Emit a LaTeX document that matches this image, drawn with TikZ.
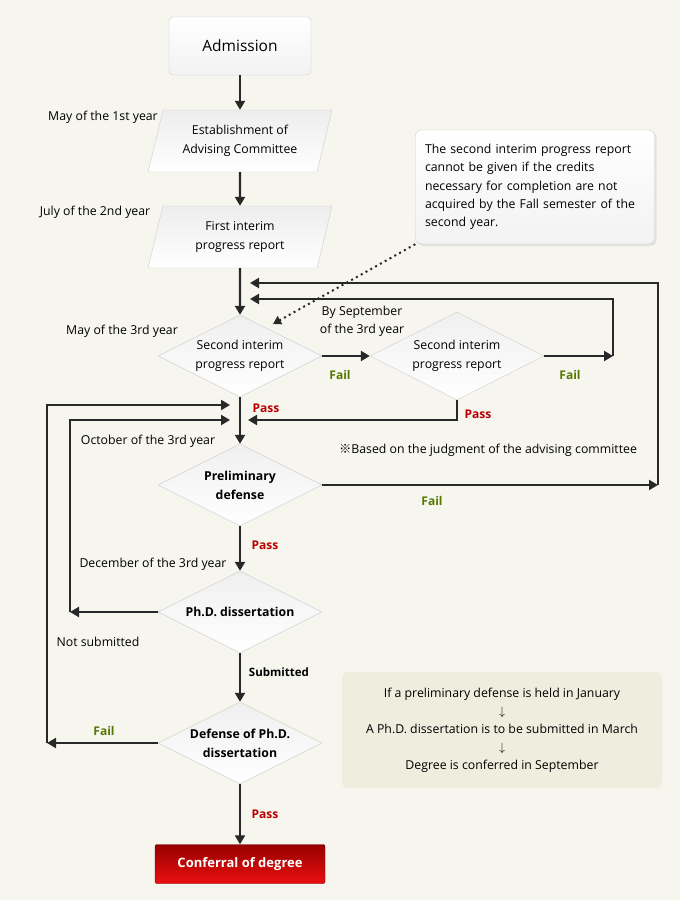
\documentclass[tikz,border=0pt]{standalone}
\usepackage{fontspec}
\setmainfont{Open Sans}
\newfontfamily\markfont{Noto Sans CJK JP}
\usetikzlibrary{arrows.meta,shapes.geometric,positioning,shadows}

\definecolor{bgpaper}{RGB}{246,245,238}
\definecolor{flowline}{RGB}{40,40,40}
\definecolor{passred}{RGB}{185,0,0}
\definecolor{failgreen}{RGB}{85,120,0}
\definecolor{shapeedge}{RGB}{205,205,205}
\definecolor{notebg}{RGB}{238,237,222}

\tikzset{
  flow/.style={draw=flowline, line width=2.2pt, -{Triangle[width=10pt,length=9pt]}},
  lbl/.style={font=\fontsize{12.3}{14}\selectfont, text=black, inner sep=1pt},
  passlbl/.style={font=\bfseries\fontsize{12}{14}\selectfont, text=passred, inner sep=1pt},
  faillbl/.style={font=\bfseries\fontsize{12}{14}\selectfont, text=failgreen, inner sep=1pt},
  startbox/.style={draw=shapeedge, rounded corners=4pt, top color=white, bottom color=gray!10,
    minimum width=142pt, minimum height=58pt, font=\fontsize{15.5}{17}\selectfont},
  stagebox/.style={trapezium, trapezium left angle=64, trapezium right angle=116,
    trapezium stretches body, draw=shapeedge, top color=gray!14, bottom color=white,
    minimum width=184pt, minimum height=62pt, inner sep=0pt, align=center,
    font=\fontsize{12.3}{18.5}\selectfont},
  choice/.style={diamond, aspect=2, draw=shapeedge, top color=gray!12, bottom color=white,
    minimum width=164pt, minimum height=82pt, inner sep=0pt, align=center,
    font=\fontsize{12.3}{19}\selectfont},
  keychoice/.style={choice, inner sep=-2pt, font=\bfseries\fontsize{12.3}{19}\selectfont},
  endbox/.style={draw={rgb,255:red,120;green,0;blue,0}, rounded corners=2pt,
    top color={rgb,255:red,150;green,0;blue,0}, bottom color={rgb,255:red,235;green,15;blue,15},
    minimum width=170pt, minimum height=39pt, text=white,
    font=\bfseries\fontsize{13}{15}\selectfont}
}

\begin{document}
\begin{tikzpicture}[x=1pt, y=-1pt]
		% paper
		\fill[bgpaper] (0,0) rectangle (680,900);
		\useasboundingbox (0,0) rectangle (680,900);
		% main column
		\node[startbox] (adm) at (240,46) {Admission};
		\node[stagebox] (est) at (240,141) {Establishment of\\Advising Committee};
		\node[stagebox] (first) at (240,237) {First interim\\progress report};
		\node[choice] (sir1) at (240,356) {Second interim\\progress report};
		\node[choice, minimum width=174pt, minimum height=88pt] (sir2) at (457,356) {Second interim\\progress report};
		\node[keychoice] (pre) at (240,485) {Preliminary\\defense};
		\node[keychoice] (phd) at (240,612) {Ph.D. dissertation};
		\node[keychoice] (dfn) at (240,743) {Defense of Ph.D.\\dissertation};
		\node[endbox] (conf) at (240,864) {Conferral of degree};
		% side notes
		\node[draw=shapeedge, rounded corners=6pt, top color=white, bottom color=gray!10,
		  drop shadow={opacity=0.15, shadow xshift=2pt, shadow yshift=-2pt},
		  minimum width=239pt, minimum height=114pt, text width=220pt, align=left,
		  font=\fontsize{12.3}{18.3}\selectfont] (memo) at (535,187)
		  {The second interim progress report\\cannot be given if the credits\\necessary for completion are not\\acquired by the Fall semester of the\\second year.};
		\node[fill=notebg, rounded corners=6pt, minimum width=320pt, minimum height=116pt,
		  align=center, font=\fontsize{12.3}{18}\selectfont] (note) at (502,730)
		  {If a preliminary defense is held in January\\$\downarrow$\\A Ph.D. dissertation is to be submitted in March\\$\downarrow$\\Degree is conferred in September};
		% timing labels
		\node[lbl] (may1) at (103,117) {May of the 1st year};
		\node[lbl] (jul2) at (95,212) {July of the 2nd year};
		\node[lbl] (may3) at (122,331) {May of the 3rd year};
		\node[lbl, align=center, font=\fontsize{12.3}{18}\selectfont] (sep3) at (362,321) {By September\\of the 3rd year};
		\node[lbl] (oct3) at (148,441) {October of the 3rd year};
		\node[lbl] (dec3) at (153,564) {December of the 3rd year};
		\node[lbl] (judge) at (488,450) {{\markfont ※}Based on the judgment of the advising committee};
		\node[lbl] (notsub) at (98,642) {Not submitted};
		\node[lbl, font=\bfseries\fontsize{11.5}{14}\selectfont] (sub) at (279,672) {Submitted};
		% corners and entry points
		\coordinate (turnA) at (613,356);
		\coordinate (turnB) at (658,485);
		\coordinate (turnC) at (70,612);
		\coordinate (turnD) at (47,743);
		\coordinate (backA) at (250,299);
		\coordinate (backB) at (250,283);
		\coordinate (backC) at (230,420);
		\coordinate (backD) at (230,405);
		\coordinate (backE) at (248,420);
		\coordinate (memotip) at (273,324);
		% connectors
		\draw[flow] (adm) -- (est);
		\draw[flow] (est) -- (first);
		\draw[flow] (first) -- (sir1);
		\draw[flow] (sir1.east) -- (sir2.west);
		\draw[flow] (sir2.east) -- (turnA);
		\draw[flow] (turnA) |- (backA);
		\draw[flow] (sir1) -- (pre);
		\draw[flow] (sir2.south) |- (backE);
		\draw[flow] (pre.east) -- (turnB);
		\draw[flow] (turnB) |- (backB);
		\draw[flow] (pre) -- (phd);
		\draw[flow] (phd.west) -- (turnC);
		\draw[flow] (turnC) |- (backC);
		\draw[flow] (phd) -- (dfn);
		\draw[flow] (dfn.west) -- (turnD);
		\draw[flow] (turnD) |- (backD);
		\draw[flow] (dfn) -- (conf);
		\draw[draw=flowline, line width=2pt, dash pattern=on 2pt off 3.5pt,
		  -{Triangle[width=9pt,length=8pt]}] (memo.south west) -- (memotip);
		% results
		\node[faillbl] (fail1) at (340,375) {Fail};
		\node[faillbl] (fail2) at (570,375) {Fail};
		\node[faillbl] (fail3) at (432,501) {Fail};
		\node[faillbl] (fail4) at (104,731) {Fail};
		\node[passlbl] (pass1) at (266,408) {Pass};
		\node[passlbl] (pass2) at (478,414) {Pass};
		\node[passlbl] (pass3) at (265,545) {Pass};
		\node[passlbl] (pass4) at (265,814) {Pass};
	\end{tikzpicture}
\end{document}
